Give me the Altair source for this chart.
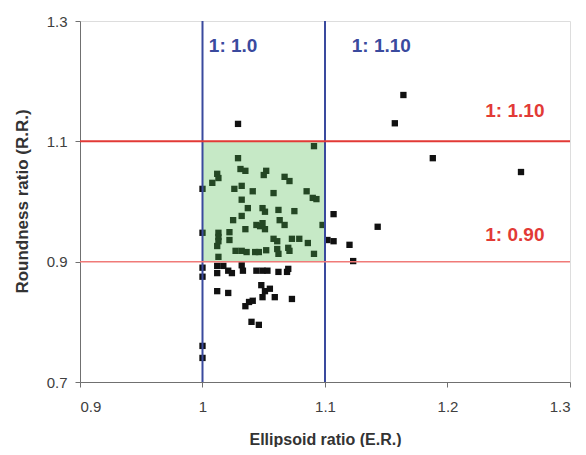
import altair as alt
import pandas as pd

# Ellipsoid ratio (E.R.) and Roundness ratio (R.R.) for each sample
er = [1.091, 1.029, 1.031, 1.035, 1.052, 1.050, 1.012, 1.013, 1.008, 1.067,
      1.071, 1.000, 1.026, 1.032, 1.041, 1.058, 1.085, 1.090, 1.093, 1.032,
      1.037, 1.049, 1.051, 1.062, 1.075, 1.025, 1.032, 1.063, 1.067, 1.098,
      1.000, 1.013, 1.013, 1.022, 1.035, 1.044, 1.047, 1.049, 1.051, 1.058,
      1.061, 1.073, 1.079, 1.086, 1.022, 1.012, 1.013, 1.027, 1.032, 1.036,
      1.043, 1.046, 1.052, 1.061, 1.062, 1.070, 1.071, 1.091, 1.013, 1.102,
      1.107, 1.107, 1.000, 1.000, 1.012, 1.012, 1.017, 1.021, 1.024, 1.032,
      1.033, 1.044, 1.049, 1.053, 1.062, 1.069, 1.070, 1.012, 1.021, 1.048,
      1.051, 1.055, 1.049, 1.059, 1.073, 1.035, 1.038, 1.041, 1.040, 1.046,
      1.000, 1.000, 1.029, 1.164, 1.157, 1.188, 1.260, 1.143, 1.120, 1.123]
rr = [1.092, 1.072, 1.054, 1.051, 1.051, 1.044, 1.046, 1.039, 1.031, 1.041,
      1.034, 1.021, 1.021, 1.026, 1.017, 1.014, 1.017, 1.006, 1.004, 1.003,
      0.989, 0.989, 0.983, 0.986, 0.984, 0.969, 0.976, 0.969, 0.961, 0.961,
      0.948, 0.948, 0.941, 0.949, 0.954, 0.961, 0.959, 0.964, 0.954, 0.938,
      0.934, 0.938, 0.938, 0.931, 0.936, 0.926, 0.934, 0.918, 0.918, 0.916,
      0.916, 0.916, 0.919, 0.921, 0.913, 0.923, 0.918, 0.913, 0.908, 0.936,
      0.934, 0.979, 0.890, 0.875, 0.893, 0.881, 0.893, 0.885, 0.881, 0.894,
      0.885, 0.885, 0.885, 0.885, 0.883, 0.883, 0.888, 0.851, 0.848, 0.861,
      0.851, 0.855, 0.841, 0.841, 0.838, 0.826, 0.833, 0.835, 0.800, 0.795,
      0.760, 0.740, 1.129, 1.177, 1.130, 1.072, 1.049, 0.958, 0.928, 0.901]

# Reference limits
er_limits = [1.0, 1.1]
rr_limits = [1.1, 0.9]
rr_limit_colors = ["#e23a36", "#f07a78"]
rr_limit_widths = [2, 1.5]

# Annotation labels
label_texts = ["1: 1.0", "1: 1.10", "1: 1.10", "1: 0.90"]
label_x = [1.025, 1.146, 1.255, 1.255]
label_y = [1.258, 1.258, 1.150, 0.944]
label_colors = ["#3a4a9e", "#3a4a9e", "#e23a36", "#e23a36"]

pts = pd.DataFrame({"er": er, "rr": rr})
vl = pd.DataFrame({"x": er_limits})
hl = pd.DataFrame({"y": rr_limits, "c": rr_limit_colors, "w": rr_limit_widths})
box = pd.DataFrame({"x": [er_limits[0]], "x2": [er_limits[1]],
                    "y": [rr_limits[1]], "y2": [rr_limits[0]]})
labs = pd.DataFrame({"t": label_texts, "x": label_x, "y": label_y, "c": label_colors})

xs = alt.Scale(domain=[0.9, 1.3], nice=False, zero=False)
ys = alt.Scale(domain=[0.7, 1.3], nice=False, zero=False)

FONT = "Liberation Sans"

x_axis = alt.Axis(values=[0.9, 1.0, 1.1, 1.2, 1.3], format="~g", grid=False,
                  title="Ellipsoid ratio (E.R.)", labelFont=FONT, labelFontSize=15,
                  labelColor="#404040", tickColor="#707070", domainColor="#707070",
                  tickSize=5, labelPadding=12, titleFont=FONT, titleFontSize=16,
                  titleFontWeight="bold", titleColor="#333333",
                  titleY=57, titleBaseline="middle")
y_axis = alt.Axis(values=[0.7, 0.9, 1.1, 1.3], format="~g", grid=False,
                  title="Roundness ratio (R.R.)", labelFont=FONT, labelFontSize=15,
                  labelColor="#404040", tickColor="#707070", domainColor="#707070",
                  tickSize=5, labelPadding=8, titleFont=FONT, titleFontSize=17,
                  titleFontWeight="bold", titleColor="#333333",
                  titleAngle=270, titleX=-58, titleY=180, titleAlign="center",
                  titleBaseline="middle")

points = alt.Chart(pts).mark_square(size=40, color="#111111", opacity=1).encode(
    x=alt.X("er:Q", scale=xs, axis=x_axis),
    y=alt.Y("rr:Q", scale=ys, axis=y_axis),
)

zone = alt.Chart(box).mark_rect(color="#4ebb4e", opacity=0.32).encode(
    x=alt.X("x:Q", scale=xs), x2="x2:Q",
    y=alt.Y("y:Q", scale=ys), y2="y2:Q",
)

vrules = alt.Chart(vl).mark_rule(color="#3a4a9e", strokeWidth=2).encode(
    x=alt.X("x:Q", scale=xs)
)

hrules = alt.Chart(hl).mark_rule().encode(
    y=alt.Y("y:Q", scale=ys),
    color=alt.Color("c:N", scale=None),
    strokeWidth=alt.StrokeWidth("w:Q", scale=None),
)

texts = alt.Chart(labs).mark_text(font=FONT, fontSize=19, fontWeight="bold",
                                  align="center", baseline="middle").encode(
    x=alt.X("x:Q", scale=xs), y=alt.Y("y:Q", scale=ys),
    text="t:N", color=alt.Color("c:N", scale=None),
)

chart = alt.layer(points, zone, vrules, hrules, texts).properties(
    width=490, height=361,
    autosize=alt.AutoSizeParams(type="none"),
    padding={"left": 72, "top": 13, "right": 8, "bottom": 65},
).configure_view(stroke="#808080", strokeWidth=1.5).configure(background="white")

chart.save("out.html", embed_options={"renderer": "svg", "actions": False})
